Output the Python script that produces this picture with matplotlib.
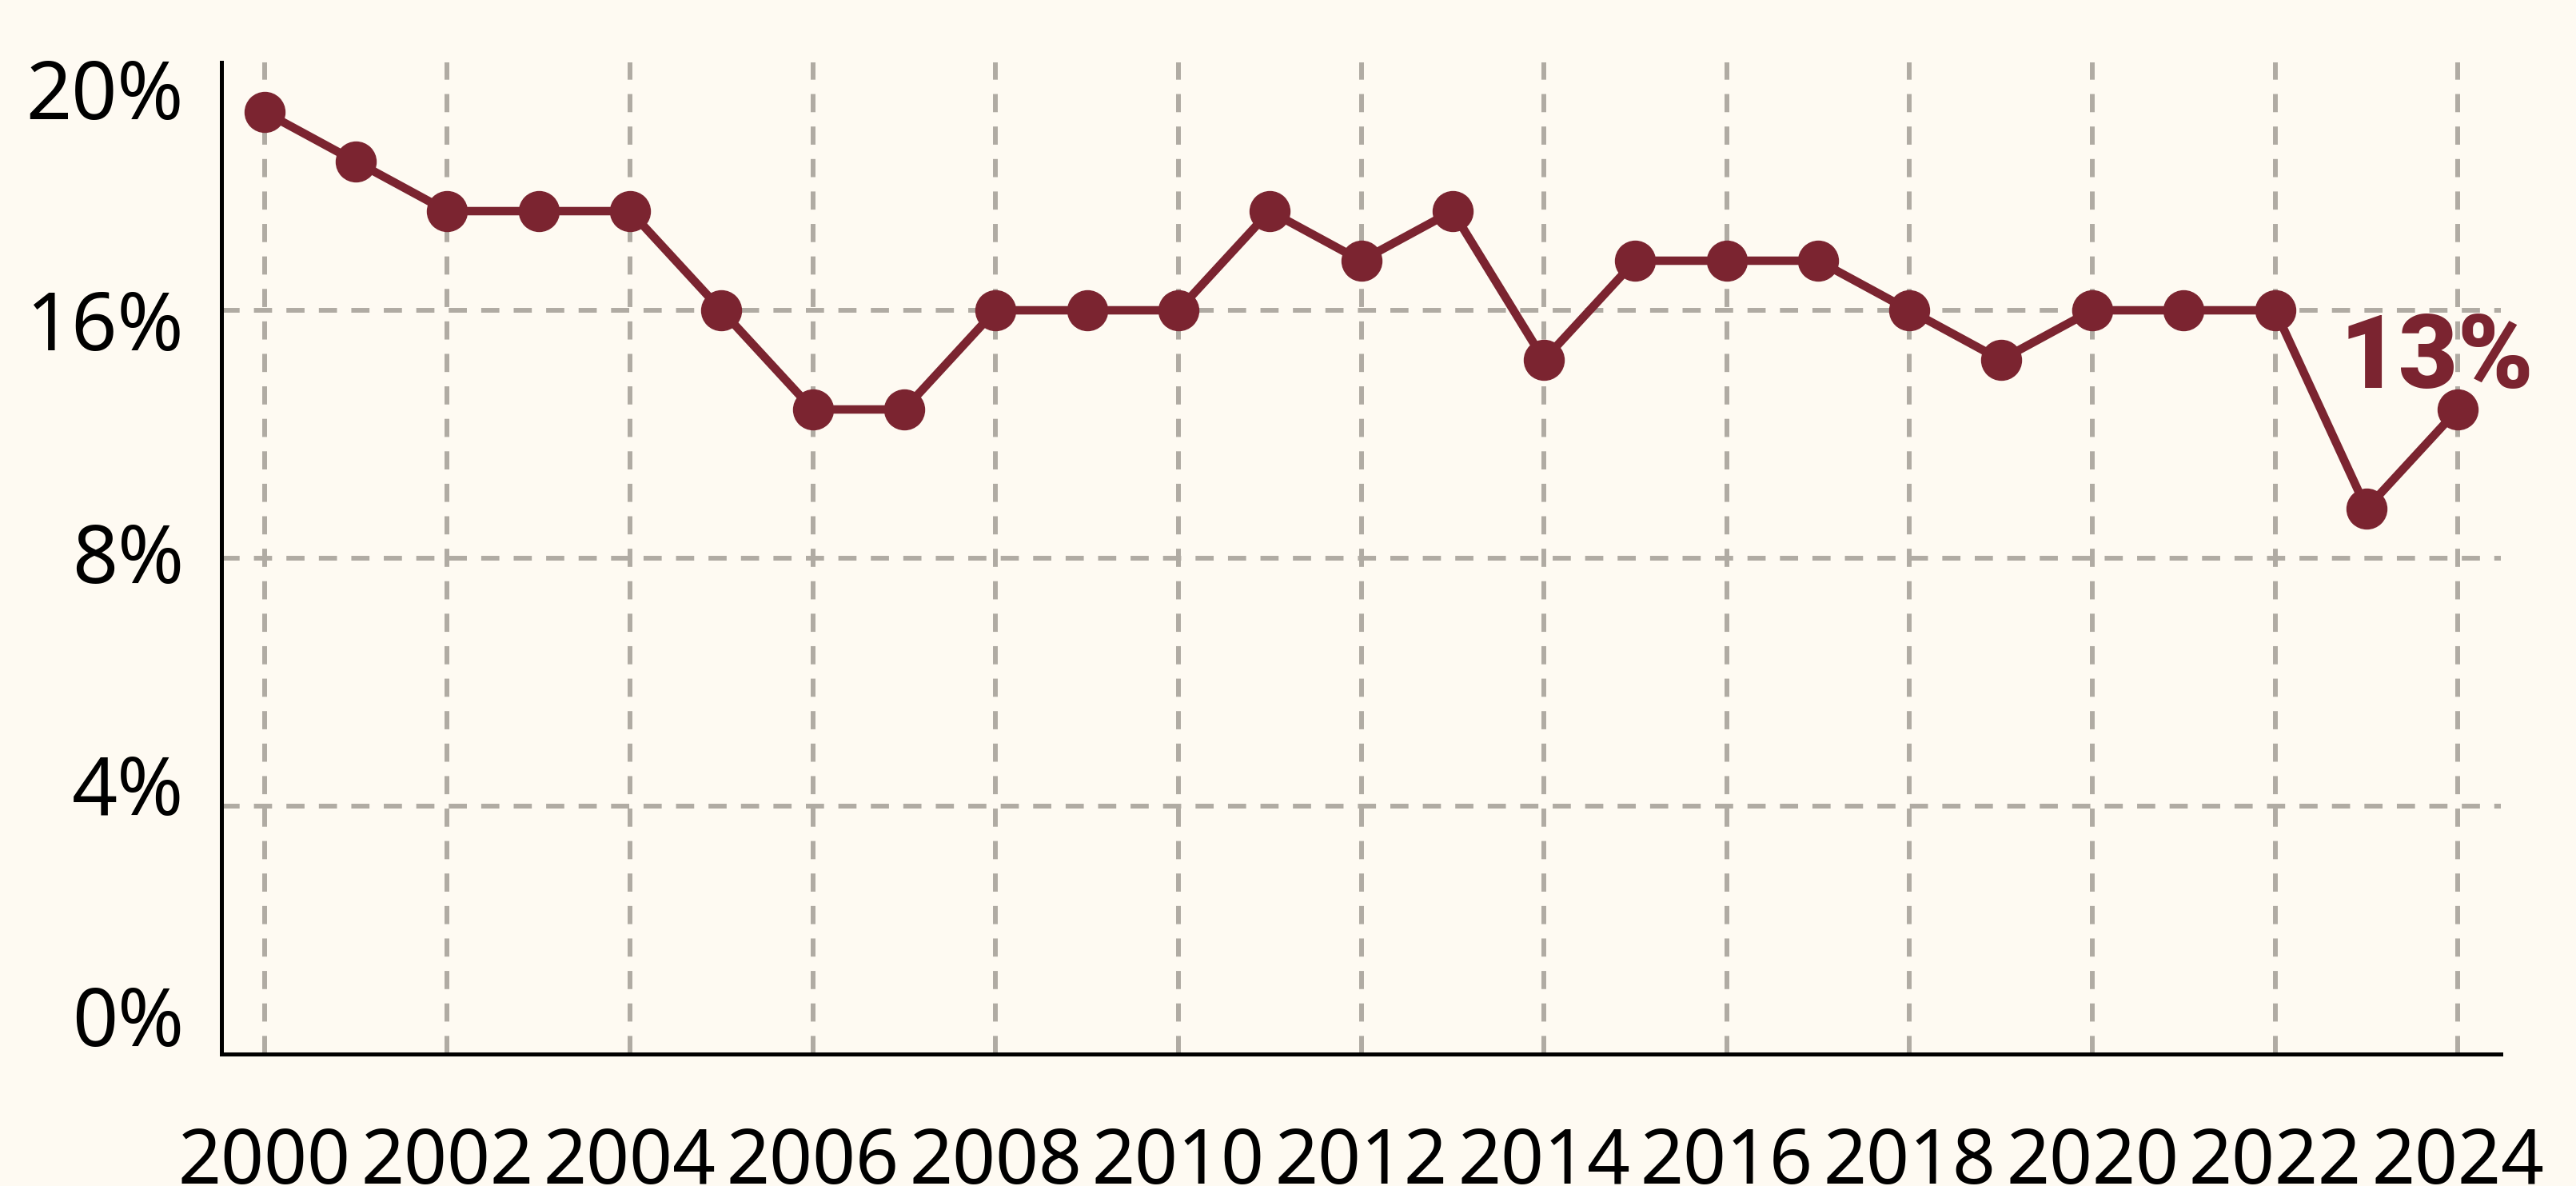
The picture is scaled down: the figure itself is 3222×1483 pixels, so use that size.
import matplotlib.pyplot as plt

# values
years = list(range(2000, 2025))
rate = [19, 18, 17, 17, 17, 15, 13, 13, 15, 15, 15, 17, 16, 17, 14,
        16, 16, 16, 15, 14, 15, 15, 15, 11, 13]
ytick_labels = ["0%", "4%", "8%", "16%", "20%"]
xtick_years = list(range(2000, 2025, 2))

# y labels sit evenly spaced, a bit inside the grid lines
ylabel_pos = [0.78, 5.45, 10.12, 14.82, 19.48]

bg = "#fefaf2"
red = "#7b2430"
grey = "#b0aba3"

plt.rcParams['font.family'] = ['Noto Sans', 'DejaVu Sans']

fig = plt.figure(figsize=(32.22, 14.83), dpi=100, facecolor=bg)
ax = fig.add_axes([277 / 3222, 1 - 1318 / 1483, (3128 - 277) / 3222, (1318 - 78) / 1483])
ax.set_facecolor(bg)

ax.plot(years, rate, color=red, lw=7.6, marker="o", ms=36, zorder=3,
        clip_on=False)

ax.set_xlim(1999.53, 2024.47)
ax.set_ylim(0, 20)

ax.set_xticks(xtick_years)
ax.set_xticklabels([str(y) for y in xtick_years], fontsize=68)
ax.set_yticks(ylabel_pos)
ax.set_yticklabels(ytick_labels, fontsize=72)
ax.set_yticks([5, 10, 15], minor=True)
ax.tick_params(axis="both", which="both", length=0)
ax.tick_params(axis="y", pad=34)
ax.tick_params(axis="x", pad=65)

ax.grid(False)
ax.xaxis.grid(True, which="major", color=grey, lw=4.3, dashes=(3.8, 3))
ax.yaxis.grid(True, which="minor", color=grey, lw=4.3, dashes=(3.8, 3))
ax.set_axisbelow(True)

for s in ["top", "right"]:
    ax.spines[s].set_visible(False)
for s in ["left", "bottom"]:
    ax.spines[s].set_linewidth(3.6)
    ax.spines[s].set_color("black")

ax.text(2023.77, 14.0, "13%", color=red, fontsize=92, fontweight="black",
        family=["Roboto", "DejaVu Sans"], ha="center", va="center", zorder=4)

fig.savefig("out.png", dpi=100, facecolor=bg)
